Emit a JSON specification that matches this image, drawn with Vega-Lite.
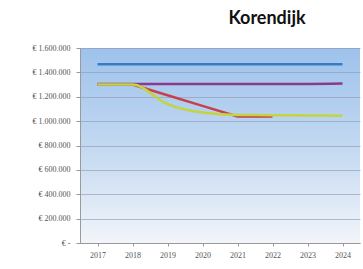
{
  "$schema": "https://vega.github.io/schema/vega-lite/v6.json",
  "width": 280,
  "height": 195,
  "autosize": "none",
  "padding": {"left": 80, "top": 48, "right": 3, "bottom": 26},
  "title": {"text": "Korendijk", "font": "Lato", "fontSize": 18, "fontWeight": "bold", "color": "#111111", "anchor": "middle", "dx": 47, "offset": 16},
  "view": {"stroke": null, "fill": {"gradient": "linear", "x1": 0, "y1": 0, "x2": 0, "y2": 1, "stops": [{"offset": 0, "color": "#9ec2ec"}, {"offset": 0.5, "color": "#c2d8f1"}, {"offset": 1, "color": "#f2f5fa"}]}},
  "data": {"values": [
    {"s": "A", "year": "2017", "v": 1467000},
    {"s": "A", "year": "2018", "v": 1467000},
    {"s": "A", "year": "2019", "v": 1467000},
    {"s": "A", "year": "2020", "v": 1467000},
    {"s": "A", "year": "2021", "v": 1467000},
    {"s": "A", "year": "2022", "v": 1467000},
    {"s": "A", "year": "2023", "v": 1467000},
    {"s": "A", "year": "2024", "v": 1467000},
    {"s": "B", "year": "2017", "v": 1305000},
    {"s": "B", "year": "2018", "v": 1305000},
    {"s": "B", "year": "2019", "v": 1305000},
    {"s": "B", "year": "2020", "v": 1305000},
    {"s": "B", "year": "2021", "v": 1305000},
    {"s": "B", "year": "2022", "v": 1305000},
    {"s": "B", "year": "2023", "v": 1305000},
    {"s": "B", "year": "2024", "v": 1308000},
    {"s": "C", "year": "2017", "v": 1300000},
    {"s": "C", "year": "2018", "v": 1300000},
    {"s": "C", "year": "2019", "v": 1212000},
    {"s": "C", "year": "2020", "v": 1125000},
    {"s": "C", "year": "2021", "v": 1038000},
    {"s": "C", "year": "2022", "v": 1038000},
    {"s": "D", "year": "2017", "v": 1300000},
    {"s": "D", "year": "2018", "v": 1300000},
    {"s": "D", "year": "2019", "v": 1140000},
    {"s": "D", "year": "2020", "v": 1070000},
    {"s": "D", "year": "2021", "v": 1050000},
    {"s": "D", "year": "2022", "v": 1049000},
    {"s": "D", "year": "2023", "v": 1047000},
    {"s": "D", "year": "2024", "v": 1045000}
  ]},
  "encoding": {
    "x": {"field": "year", "type": "ordinal", "scale": {"type": "point", "padding": 0.5},
      "axis": {"title": null, "labelAngle": 0, "labelFont": "Liberation Serif", "labelFontSize": 8, "labelColor": "#555555", "domainColor": "#9a9a9a", "tickColor": "#9a9a9a", "tickSize": 3, "labelPadding": 5, "grid": false}},
    "y": {"field": "v", "type": "quantitative", "scale": {"domain": [0, 1600000], "nice": false},
      "axis": {"title": null, "values": [0, 200000, 400000, 600000, 800000, 1000000, 1200000, 1400000, 1600000],
        "labelExpr": "datum.value == 0 ? '€ -' : '€ ' + replace(format(datum.value, ','), /,/g, '.')",
        "labelFont": "Liberation Serif", "labelFontSize": 8, "labelColor": "#555555", "domainColor": "#9a9a9a", "tickColor": "#9a9a9a", "tickSize": 4, "labelPadding": 6,
        "gridColor": "#8f9ab0", "gridWidth": 0.8, "gridOpacity": 0.8}},
    "color": {"field": "s", "type": "nominal", "legend": null,
      "scale": {"domain": ["A", "B", "C", "D"], "range": ["#3a7cc4", "#8a3a8e", "#c8404a", "#c4d43c"]}}
  },
  "layer": [
    {"transform": [{"filter": "datum.s == 'C'"}], "mark": {"type": "line", "strokeWidth": 2.5, "interpolate": "linear"}},
    {"transform": [{"filter": "datum.s != 'C'"}], "mark": {"type": "line", "strokeWidth": 2.5, "interpolate": "monotone"}}
  ]
}
